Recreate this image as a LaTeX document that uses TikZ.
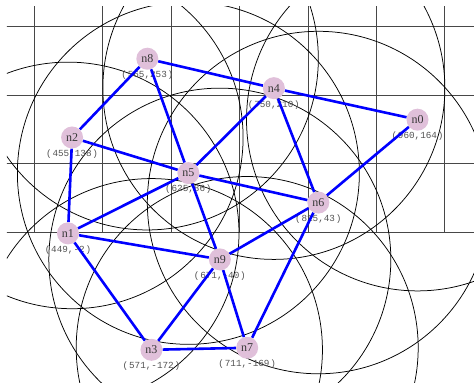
\documentclass[tikz,border=0pt]{standalone}
\usepackage{fontspec}
\setmainfont{Liberation Serif}
\newfontfamily\coordfont{Liberation Mono}
\definecolor{nodepink}{RGB}{224,192,218}
\pgfdeclarelayer{bg}
\pgfdeclarelayer{lab}
\pgfdeclarelayer{edg}
\pgfsetlayers{bg,lab,edg,main}
\newcommand{\crd}[1]{(\hspace{0.8pt}#1\hspace{0.8pt})}
\begin{document}
\begin{tikzpicture}[x=0.684pt,y=0.685pt,
  gridline/.style={draw=black!72, line width=0.9pt},
  rangecircle/.style={draw=black, line width=0.75pt},
  link/.style={draw=blue, line width=2.6pt},
  sensor/.style={circle, fill=nodepink, minimum size=22pt, inner sep=0pt,
    font=\fontsize{12}{12}\selectfont, text=black!78},
  coordlabel/.style={font=\coordfont\fontsize{9.3}{10}\selectfont, text=black!68, inner sep=0pt}]
\useasboundingbox (349.6,-219.0) rectangle (1042.6,338.7);
% nodes
\node[sensor] (n0) at (960,164) {n0};
\node[sensor] (n1) at (449,-2) {n1};
\node[sensor] (n2) at (455,138) {n2};
\node[sensor] (n3) at (571,-172) {n3};
\node[sensor] (n4) at (750,210) {n4};
\node[sensor] (n5) at (625,86) {n5};
\node[sensor] (n6) at (815,43) {n6};
\node[sensor] (n7) at (711,-169) {n7};
\node[sensor] (n8) at (565,253) {n8};
\node[sensor] (n9) at (671,-40) {n9};
% coordinate labels
\begin{pgfonlayer}{lab}
\node[coordlabel] (l0) at ([yshift=-16.5pt]n0.center) {\crd{960,164}};
\node[coordlabel] (l1) at ([yshift=-16.5pt]n1.center) {\crd{449,-2}};
\node[coordlabel] (l2) at ([yshift=-16.5pt]n2.center) {\crd{455,138}};
\node[coordlabel] (l3) at ([yshift=-16.5pt]n3.center) {\crd{571,-172}};
\node[coordlabel] (l4) at ([yshift=-16.5pt]n4.center) {\crd{750,210}};
\node[coordlabel] (l5) at ([yshift=-16.5pt]n5.center) {\crd{625,86}};
\node[coordlabel] (l6) at ([yshift=-16.5pt]n6.center) {\crd{815,43}};
\node[coordlabel] (l7) at ([yshift=-16.5pt]n7.center) {\crd{711,-169}};
\node[coordlabel] (l8) at ([yshift=-16.5pt]n8.center) {\crd{565,253}};
\node[coordlabel] (l9) at ([yshift=-16.5pt]n9.center) {\crd{671,-40}};
\end{pgfonlayer}
% grid and ranges
\begin{pgfonlayer}{bg}
\begin{scope}
\clip (359.8,-219.5) rectangle (1043,328.5);
\foreach \u in {400,500,...,1000} \draw[gridline] (\u,0) -- (\u,330);
\foreach \v in {0,100,200,300} \draw[gridline] (355,\v) -- (1045,\v);
\foreach \n in {n0,n1,n2,n3,n4,n5,n6,n7,n8,n9}
  \draw[rangecircle] (\n.center) circle[radius=250];
\end{scope}
\end{pgfonlayer}
% links
\begin{pgfonlayer}{edg}
\draw[link] (n8) -- (n4);
\draw[link] (n8) -- (n2);
\draw[link] (n8) -- (n5);
\draw[link] (n4) -- (n0);
\draw[link] (n4) -- (n5);
\draw[link] (n4) -- (n6);
\draw[link] (n0) -- (n6);
\draw[link] (n2) -- (n5);
\draw[link] (n2) -- (n1);
\draw[link] (n5) -- (n6);
\draw[link] (n5) -- (n1);
\draw[link] (n5) -- (n9);
\draw[link] (n1) -- (n9);
\draw[link] (n1) -- (n3);
\draw[link] (n9) -- (n6);
\draw[link] (n9) -- (n3);
\draw[link] (n9) -- (n7);
\draw[link] (n3) -- (n7);
\draw[link] (n6) -- (n7);
\end{pgfonlayer}
\end{tikzpicture}
\end{document}
